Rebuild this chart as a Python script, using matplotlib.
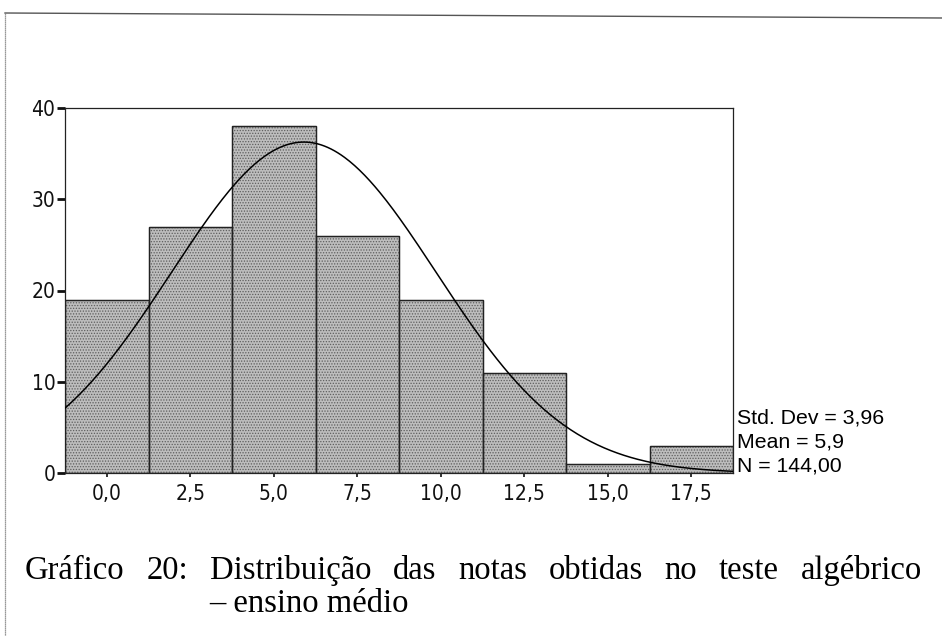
import numpy as np
import matplotlib
matplotlib.use("Agg")
import matplotlib.pyplot as plt
import matplotlib as mpl
from matplotlib.lines import Line2D

mpl.rcParams['hatch.linewidth'] = 0.6

# data
centros = [0.0, 2.5, 5.0, 7.5, 10.0, 12.5, 15.0, 17.5]
freq = [19, 27, 38, 26, 19, 11, 1, 3]
rotulos_x = ["0,0", "2,5", "5,0", "7,5", "10,0", "12,5", "15,0", "17,5"]
ticks_y = [0, 10, 20, 30, 40]
largura = 2.5

std_dev = 3.96
media = 5.9
n_total = 144
estat = ["Std. Dev = 3,96", "Mean = 5,9", "N = 144,00"]

palavras = ["Gráfico", "20:", "Distribuição", "das", "notas", "obtidas",
            "no", "teste", "algébrico"]
linha2 = "– ensino médio"

W, H = 942, 636
fig = plt.figure(figsize=(W / 100, H / 100), dpi=100)
fig.patch.set_facecolor("white")

# axes box in pixel coords of the reference
x0, x1, y0, y1 = 65, 733, 108, 473
ax = fig.add_axes([x0 / W, 1 - y1 / H, (x1 - x0) / W, (y1 - y0) / H])

ax.bar(centros, freq, width=largura, color="#bdbdbd", edgecolor="#222222",
       linewidth=0.9, zorder=2)
ax.bar(centros, freq, width=largura, facecolor="none", edgecolor="#5e5e5e",
       hatch="......", linewidth=0, zorder=2.5)
ax.bar(centros, freq, width=largura, facecolor="none", edgecolor="#222222",
       linewidth=0.9, zorder=2.6)

# normal curve from the stats printed on the chart
xs = np.linspace(centros[0] - largura / 2, centros[-1] + largura / 2, 400)
ys = n_total * largura / (std_dev * np.sqrt(2 * np.pi)) * np.exp(-0.5 * ((xs - media) / std_dev) ** 2)
ax.plot(xs, ys, color="black", lw=1.1, zorder=3)

ax.set_xlim(centros[0] - largura / 2, centros[-1] + largura / 2)
ax.set_ylim(0, 40)
ax.set_xticks(centros)
ax.set_xticklabels(rotulos_x)
ax.set_yticks(ticks_y)
ax.set_yticklabels([str(t) for t in ticks_y])

for lab in ax.get_xticklabels() + ax.get_yticklabels():
    lab.set_family('DejaVu Sans')
    lab.set_fontstretch('condensed')
    lab.set_fontsize(15)
ax.tick_params(axis="y", direction="out", length=6, width=2, pad=1, colors="#111111")
ax.tick_params(axis="x", direction="out", length=3, width=1.2, pad=5, colors="#111111")
for s in ax.spines.values():
    s.set_linewidth(0.9)
    s.set_color("#222222")

# stats box to the right of the plot
for i, t in enumerate(estat):
    fig.text(737 / W, 1 - (424 + 24 * i) / H, t, fontsize=15.3,
             family=['Liberation Sans', 'DejaVu Sans'], ha="left", va="baseline")

# page frame from the scan
fig.add_artist(Line2D([5 / W, 1.0], [1 - 13 / H, 1 - 18 / H], transform=fig.transFigure,
                      color="#555555", lw=1.0))
fig.add_artist(Line2D([5 / W, 5 / W], [1 - 13 / H, 0], transform=fig.transFigure,
                      color="#777777", lw=0.9, ls=(0, (1, 0.6))))

# caption, justified between two margins
fonte_leg = ['Liberation Serif', 'DejaVu Serif']
fig.canvas.draw()
r = fig.canvas.get_renderer()
textos = []
larg_total = 0
for p in palavras:
    t = fig.text(0, 1 - 579 / H, p, fontsize=23.5, family=fonte_leg, va="baseline", ha="left")
    textos.append(t)
    larg_total += t.get_window_extent(r).width
esq, dir_ = 25, 922
gap = (dir_ - esq - larg_total) / (len(palavras) - 1)
xpos = esq
for t in textos:
    t.set_x(xpos / W)
    xpos += t.get_window_extent(r).width + gap
x_ind = textos[2].get_position()[0]
fig.text(x_ind, 1 - 612 / H, linha2, fontsize=23.5, family=fonte_leg, va="baseline", ha="left")

fig.savefig("out.png", dpi=100)
